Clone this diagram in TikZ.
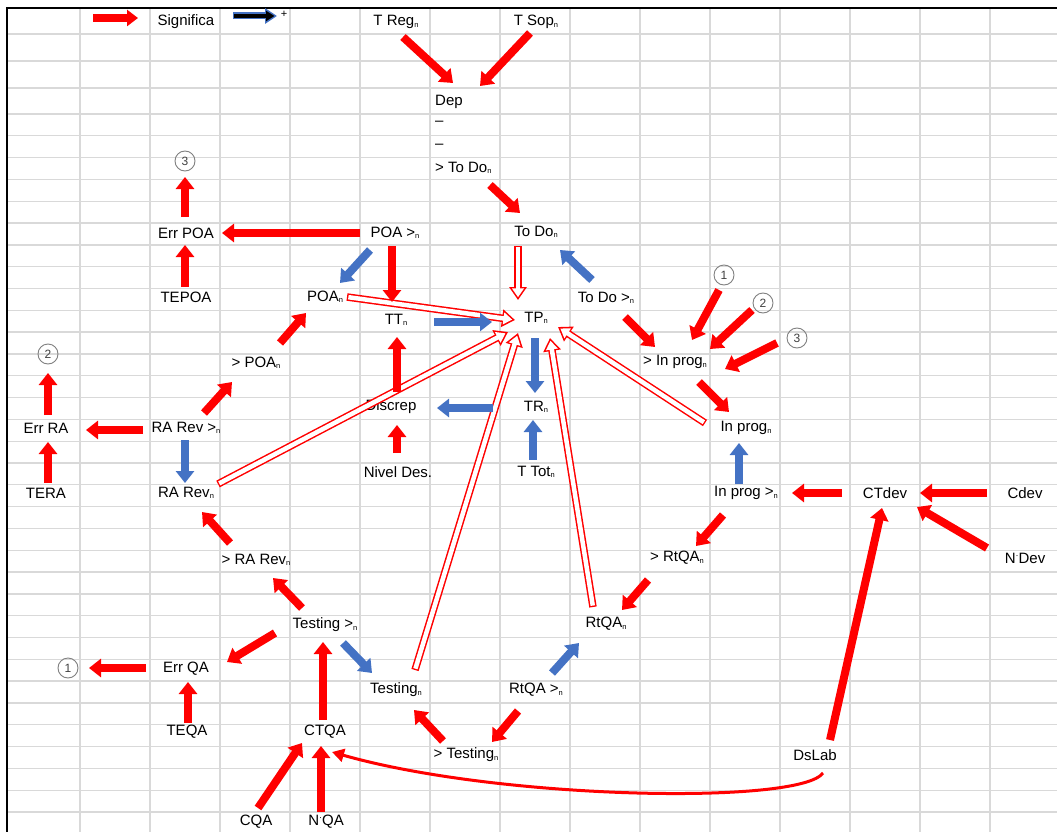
\documentclass[tikz,border=0pt]{standalone}
\usepackage{fontspec}
\setmainfont{Liberation Sans}
\usetikzlibrary{arrows.meta,calc}
\definecolor{xred}{HTML}{FF0000}
\definecolor{xblue}{HTML}{4472C4}
\definecolor{gridc}{HTML}{D9D9D9}
\newcommand{\subn}{\raisebox{-1.5pt}{\fontsize{7.5}{7.5}\selectfont n}}
\newcommand{\harrow}[2]{\draw[hout] #1 -- #2; \draw[hin] #1 -- #2;}
\tikzset{
  lbl/.style={font=\fontsize{15}{15}\selectfont, inner sep=0pt, anchor=center},
  redarr/.style={draw=xred, line width=8pt, -{Triangle[length=12pt,width=18pt]}},
  bluearr/.style={draw=xblue, line width=8pt, -{Triangle[length=12pt,width=18pt]}},
  hout/.style={draw=xred, line width=7.5pt, -{Triangle[length=13pt,width=17pt]}},
  hin/.style={draw=white, line width=4.5pt, shorten <=1.4pt, shorten >=2.8pt, -{Triangle[length=8.8pt,width=11.5pt]}},
  circ/.style={circle, draw=gray, line width=0.9pt, minimum size=20pt, inner sep=0pt, text=darkgray, font=\fontsize{12}{12}\selectfont},
  gridline/.style={draw=gridc, line width=1.3pt},
}
\begin{document}
\begin{tikzpicture}[x=1pt,y=-1pt]
\path[use as bounding box, fill=white] (0,0) rectangle (1057,832);
% grid
\foreach \gx in {80,150,220,290,360,430,500,570,640,710,780,850,920,990}
  \draw[gridline] (\gx,8) -- (\gx,832);
\foreach \gy in {34,61,88,114,135.8,157.6,179.4,201.3,223.1,244.9,266.7,288.5,310.3,332.1,353.9,375.8,397.6,419.4,441.2,463,484.8,506.6,528.4,550.3,572.1,593.9,615.7,637.5,659.3,681.1,702.9,724.8,746.6,768.4,790.2,812}
  \draw[gridline] (7,\gy) -- (1057,\gy);
\draw[black, line width=2.5pt] (7,832) -- (7,8) -- (1057,8);

% nodes
\node[lbl] (sig) at (186,22) {Significa};
\node[lbl] (plus) at (284,14) {\fontsize{11}{11}\selectfont +};
\node[lbl] (treg) at (396,22) {T Reg\subn};
\node[lbl] (tsop) at (536,22) {T Sop\subn};
\node[lbl,anchor=west] (dep) at (435,102) {Dep};
\node[lbl,anchor=west] (dasha) at (435,123) {–};
\node[lbl,anchor=west] (dashb) at (435,146) {–};
\node[lbl,anchor=west] (gtodo) at (435,168) {> To Do\subn};
\node[lbl] (todo) at (536,232) {To Do\subn};
\node[lbl] (poagt) at (395,233) {POA >\subn};
\node[lbl] (errpoa) at (186,233) {Err POA};
\node[circ] (cthreea) at (185,161) {3};
\node[lbl] (tepoa) at (186,297) {TEPOA};
\node[lbl] (poa) at (325,297) {POA\subn};
\node[lbl] (tt) at (396,320) {TT\subn};
\node[lbl] (tp) at (536,318) {TP\subn};
\node[lbl] (todogt) at (606,298) {To Do >\subn};
\node[lbl] (ginprog) at (675,362) {> In prog\subn};
\node[circ] (coneb) at (724,275) {1};
\node[circ] (ctwob) at (763,303) {2};
\node[circ] (cthreeb) at (797,338) {3};
\node[lbl] (inprog) at (746,428) {In prog\subn};
\node[lbl] (inproggt) at (746,493) {In prog >\subn};
\node[lbl] (ctdev) at (885,493) {CTdev};
\node[lbl] (cdev) at (1025,493) {Cdev};
\node[lbl] (ndev) at (1025,558) {N\raisebox{5pt}{\fontsize{9}{9}\selectfont ·}Dev};
\node[lbl] (dslab) at (815,755) {DsLab};
\node[lbl] (gpoa) at (256,363) {> POA\subn};
\node[circ] (ctwoa) at (48,354) {2};
\node[lbl] (errra) at (46,428) {Err RA};
\node[lbl] (rarevgt) at (186,428) {RA Rev >\subn};
\node[lbl] (discrep) at (391,407) {Discrep};
\node[lbl] (tr) at (536,407) {TR\subn};
\node[lbl] (tera) at (46,493) {TERA};
\node[lbl] (rarev) at (186,493) {RA Rev\subn};
\node[lbl] (nivel) at (398,472) {Nivel Des.};
\node[lbl] (ttot) at (536,472) {T Tot\subn};
\node[lbl] (grtqa) at (677,558) {> RtQA\subn};
\node[lbl] (grarev) at (256,560) {> RA Rev\subn};
\node[lbl] (rtqa) at (606,624) {RtQA\subn};
\node[lbl] (testgt) at (325,625) {Testing >\subn};
\node[lbl] (errqa) at (186,669) {Err QA};
\node[circ] (conea) at (68,668) {1};
\node[lbl] (testing) at (396,690) {Testing\subn};
\node[lbl] (rtqagt) at (536,690) {RtQA >\subn};
\node[lbl] (ctqa) at (325,732) {CTQA};
\node[lbl] (teqa) at (187,732) {TEQA};
\node[lbl] (gtesting) at (466,755) {> Testing\subn};
\node[lbl] (cqa) at (256,822) {CQA};
\node[lbl] (nqa) at (326,822) {N\raisebox{5pt}{\fontsize{9}{9}\selectfont ·}QA};

% legend arrows
\coordinate (lra) at ($(sig)+(-93,-4)$);
\coordinate (lrb) at ($(sig)+(-48,-4)$);
\draw[draw=xred, line width=8pt, -{Triangle[length=11pt,width=16pt]}] (lra) -- (lrb);
\coordinate (lba) at ($(sig)+(47,-6)$);
\coordinate (lbb) at ($(sig)+(91,-6)$);
\draw[draw=xblue, line width=7pt, -{Triangle[length=12pt,width=15pt]}] (lba) -- (lbb);
\draw[draw=black, line width=4pt, shorten <=1.2pt, shorten >=2.5pt, -{Triangle[length=8.5pt,width=10pt]}] (lba) -- (lbb);

% hollow arrows into TP
\harrow{($(todo)+(-18,14)$)}{($(tp)+(-18,-18)$)}
\harrow{($(poa)+(22,0)$)}{($(tp)+(-21,2)$)}
\harrow{($(rarev)+(32,-9)$)}{($(tp)+(-28,14)$)}
\harrow{($(testing)+(19,-20)$)}{($(tp)+(-18,15)$)}
\harrow{($(rtqa)+(-13,-17)$)}{($(tp)+(14,20)$)}
\harrow{($(inprog)+(-41,-5)$)}{($(tp)+(22,9)$)}

% red arrows
\draw[redarr] ($(treg)+(7,15)$) -- ($(dep.west)+(18,-19)$);
\draw[redarr] ($(tsop)+(-6,11)$) -- ($(dep.west)+(45,-16)$);
\draw[redarr] ($(gtodo.west)+(55,17)$) -- ($(todo)+(-16,-19)$);
\draw[redarr] ($(poagt)+(-35,0)$) -- ($(errpoa)+(36,0)$);
\draw[redarr] ($(tepoa)+(-1,-10)$) -- ($(errpoa)+(-1,12)$);
\draw[redarr] ($(errpoa)+(-1,-16)$) -- ($(cthreea)+(0,16)$);
\draw[redarr] ($(poagt)+(-3,13)$) -- ($(tt)+(-4,-18)$);
\draw[redarr] ($(todogt)+(19,19)$) -- ($(ginprog)+(-20,-15)$);
\draw[redarr] ($(coneb)+(-5,15)$) -- ($(ginprog)+(17,-22)$);
\draw[redarr] ($(ctwob)+(-11,7)$) -- ($(ginprog)+(35,-13)$);
\draw[redarr] ($(cthreeb)+(-20,5)$) -- ($(ginprog)+(50,7)$);
\draw[redarr] ($(ginprog)+(24,20)$) -- ($(inprog)+(-17,-16)$);
\draw[redarr] ($(ctdev)+(-43,0)$) -- ($(inproggt)+(46,0)$);
\draw[redarr] ($(cdev)+(-38,0)$) -- ($(ctdev)+(35,0)$);
\draw[redarr] ($(ndev)+(-38,-10)$) -- ($(ctdev)+(32,14)$);
\draw[redarr] ($(dslab)+(15,-15)$) -- ($(ctdev)+(-3,15)$);
\draw[draw=xred, line width=3pt, -{Triangle[length=12pt,width=13pt]}] ($(dslab)+(8,18)$) .. controls (800,805) and (500,800) .. ($(ctqa)+(7,20)$);
\draw[redarr] ($(testgt)+(-23,-17)$) -- ($(grarev)+(17,18)$);
\draw[redarr] ($(grarev)+(-26,-17)$) -- ($(rarev)+(16,19)$);
\draw[redarr] ($(rarevgt)+(-43,2)$) -- ($(errra)+(40,2)$);
\draw[redarr] ($(tera)+(2,-10)$) -- ($(errra)+(2,14)$);
\draw[redarr] ($(errra)+(2,-13)$) -- ($(ctwoa)+(0,19)$);
\draw[redarr] ($(rarevgt)+(18,-15)$) -- ($(gpoa)+(-24,19)$);
\draw[redarr] ($(gpoa)+(24,-20)$) -- ($(poa)+(-19,16)$);
\draw[redarr] ($(discrep)+(6,-15)$) -- ($(tt)+(1,17)$);
\draw[redarr] ($(nivel)+(-1,-19)$) -- ($(discrep)+(6,18)$);
\draw[redarr] ($(inproggt)+(-23,22)$) -- ($(grtqa)+(19,-12)$);
\draw[redarr] ($(grtqa)+(-29,22)$) -- ($(rtqa)+(16,-14)$);
\draw[redarr] ($(rtqagt)+(-18,21)$) -- ($(gtesting)+(26,-13)$);
\draw[redarr] ($(gtesting)+(-23,-14)$) -- ($(testing)+(18,20)$);
\draw[redarr] ($(ctqa)+(-2,-12)$) -- ($(testgt)+(-2,17)$);
\draw[redarr] ($(testgt)+(-50,8)$) -- ($(errqa)+(41,-7)$);
\draw[redarr] ($(errqa)+(-40,-1)$) -- ($(conea)+(21,0)$);
\draw[redarr] ($(teqa)+(1,-9)$) -- ($(errqa)+(2,13)$);
\draw[redarr] ($(cqa)+(2,-14)$) -- ($(ctqa)+(-23,11)$);
\draw[redarr] ($(nqa)+(-5,-10)$) -- ($(ctqa)+(-4,14)$);

% blue arrows
\draw[bluearr] ($(poagt)+(-25,17)$) -- ($(poa)+(15,-14)$);
\draw[bluearr] ($(tt)+(38,2)$) -- ($(tp)+(-44,4)$);
\draw[bluearr] ($(todogt)+(-14,-18)$) -- ($(todo)+(24,18)$);
\draw[bluearr] ($(inproggt)+(-7,-9)$) -- ($(inprog)+(-7,15)$);
\draw[bluearr] ($(rarevgt)+(-1,12)$) -- ($(rarev)+(-1,-10)$);
\draw[bluearr] ($(tr)+(-43,1)$) -- ($(discrep)+(46,1)$);
\draw[bluearr] ($(tp)+(-1,20)$) -- ($(tr)+(-1,-14)$);
\draw[bluearr] ($(ttot)+(-3,-12)$) -- ($(tr)+(-3,13)$);
\draw[bluearr] ($(rtqagt)+(16,-17)$) -- ($(rtqa)+(-27,19)$);
\draw[bluearr] ($(testgt)+(18,18)$) -- ($(testing)+(-24,-17)$);
\end{tikzpicture}
\end{document}
